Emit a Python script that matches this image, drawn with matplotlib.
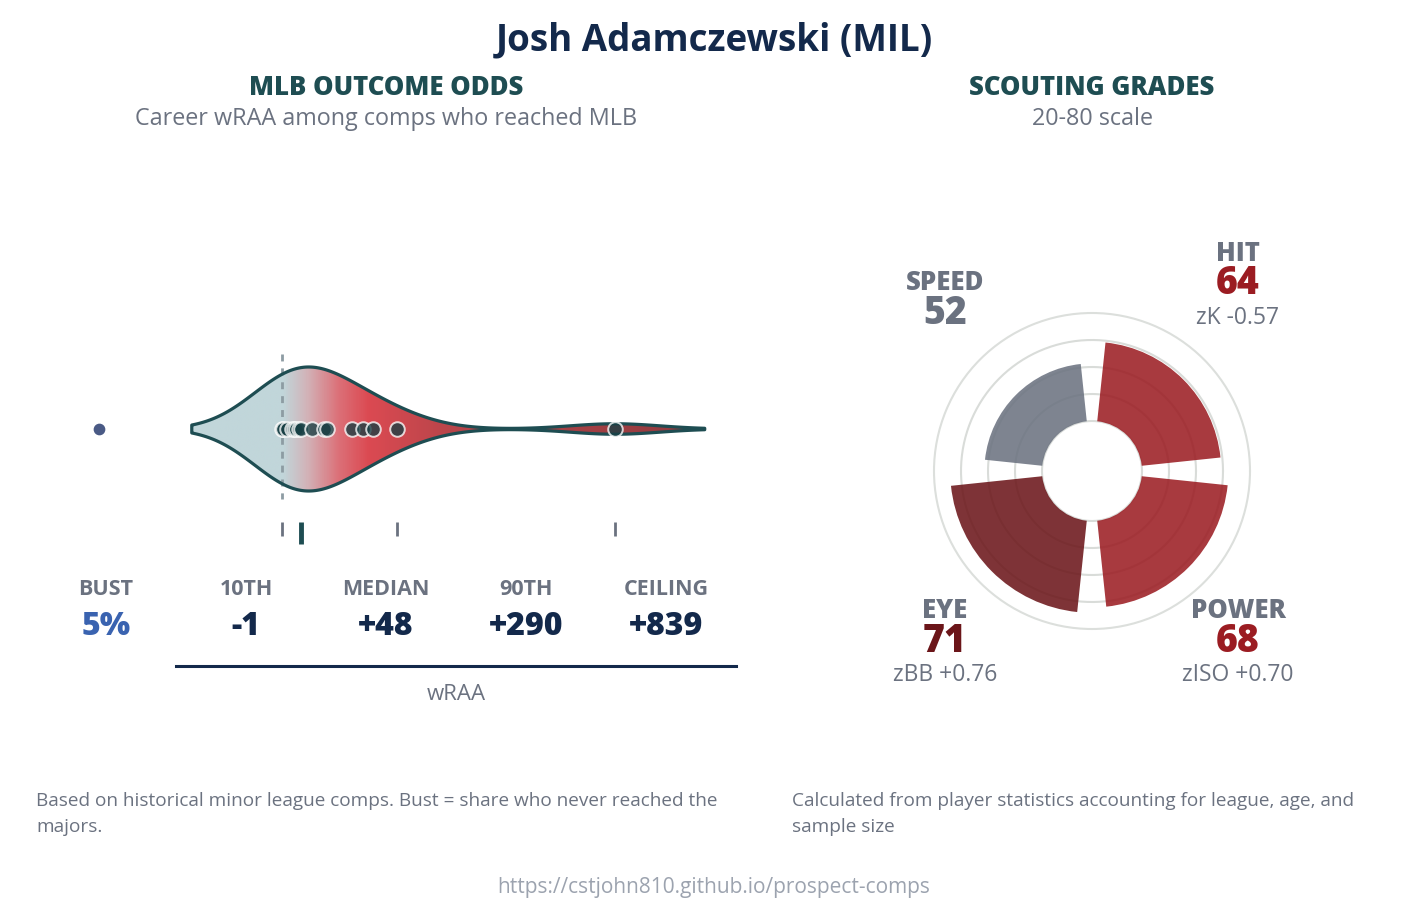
import numpy as np
import matplotlib
matplotlib.use("Agg")
import matplotlib.pyplot as plt
from matplotlib.colors import LinearSegmentedColormap
from matplotlib.patches import Polygon

plt.rcParams['font.family'] = ['Open Sans', 'DejaVu Sans']

# ---------------- data ----------------
PLAYER = "Josh Adamczewski (MIL)"
COMP_WRAA = [-1, 2, 12, 25, 30, 36, 44, 48, 75, 106, 113, 176, 205, 230, 290, 839]
BUST_MARK = -460
P10, MEDIAN, P90, CEILING = -1, 48, 290, 839
STAT_LABELS = ["BUST", "10TH", "MEDIAN", "90TH", "CEILING"]
STAT_VALUES = ["5%", "-1", "+48", "+290", "+839"]
KDE_BW = 113

GRADE_NAMES = ["HIT", "SPEED", "EYE", "POWER"]
GRADE_VALUES = [64, 52, 71, 68]
GRADE_ANGLES = [45, 135, 225, 315]
GRADE_Z = ["zK -0.57", "", "zBB +0.76", "zISO +0.70"]
GRADE_COLORS = ["#9b1c22", "#6b7280", "#6b1519", "#9b1c22"]
GRADE_GRID = [20, 35, 50, 65, 80]

W, H = 1428, 904
fig = plt.figure(figsize=(W / 100, H / 100), dpi=100)
fig.patch.set_facecolor("white")

def fx(x):
    return x / W

def fy(y):
    return 1 - y / H

NAVY = "#13294b"
TEAL = "#1e4d52"
GRAY = "#6b7280"

# ---------------- titles ----------------
fig.text(fx(714), fy(40), PLAYER, ha="center", va="center", fontsize=26.5,
         fontweight="bold", color=NAVY)
fig.text(fx(386), fy(88), "MLB OUTCOME ODDS", ha="center", va="center", fontsize=18.5,
         fontweight="heavy", color=TEAL)
fig.text(fx(386), fy(119), "Career wRAA among comps who reached MLB", ha="center",
         va="center", fontsize=16.8, color=GRAY)
fig.text(fx(1092), fy(88), "SCOUTING GRADES", ha="center", va="center", fontsize=18.5,
         fontweight="heavy", color=TEAL)
fig.text(fx(1092), fy(119), "20-80 scale", ha="center", va="center", fontsize=16.8,
         color=GRAY)

# ---------------- violin ----------------
PX0 = 281.9      # pixel of wRAA 0
PXS = 0.397      # pixels per wRAA unit
AX_L, AX_R = 60, 760
ax = fig.add_axes([fx(AX_L), 0, (AX_R - AX_L) / W, 1])
ax.set_xlim((AX_L - PX0) / PXS, (AX_R - PX0) / PXS)
ax.set_ylim(H, 0)
ax.axis("off")

vals = np.array(COMP_WRAA, dtype=float)
grid = np.linspace(vals.min() - 2 * KDE_BW, vals.max() + 2 * KDE_BW, 600)
dens = np.exp(-0.5 * ((grid[:, None] - vals[None, :]) / KDE_BW) ** 2).sum(axis=1)
half = dens / dens.max() * 62
YC = 430
top = YC - half
bot = YC + half
poly_xy = np.concatenate([np.column_stack([grid, top]),
                          np.column_stack([grid[::-1], bot[::-1]])])

stops = [(-230, "#c1d6da"), (0, "#c1d6da"), (60, "#d2b3b8"), (140, "#dc7078"),
         (215, "#db4a52"), (420, "#b9454a"), (1070, "#8f3a3e")]
lo, hi = stops[0][0], stops[-1][0]
cmap = LinearSegmentedColormap.from_list(
    "vg", [((v - lo) / (hi - lo), c) for v, c in stops])
grad = np.linspace(0, 1, 800)[None, :]
im = ax.imshow(grad, cmap=cmap, aspect="auto", extent=[lo, hi, YC + 70, YC - 70],
               zorder=1, interpolation="bilinear")
clip = Polygon(poly_xy, closed=True, facecolor="none", edgecolor="none",
               transform=ax.transData)
ax.add_patch(clip)
im.set_clip_path(clip)
ax.add_patch(Polygon(poly_xy, closed=True, facecolor="none", edgecolor=TEAL,
                     linewidth=2.3, zorder=3, joinstyle="round"))

# zero line
ax.plot([0, 0], [355, 500], color="#8d9ca3", lw=2, ls=(0, (2.5, 2.5)), zorder=2)

# points
ax.scatter(vals, np.full_like(vals, YC), s=110, color="#173f44", alpha=0.78,
           edgecolors="white", linewidths=1.4, zorder=4)
ax.scatter([BUST_MARK], [YC], s=55, color="#4a5a85", zorder=4)

# percentile ticks
for v in [P10, P90, CEILING]:
    ax.plot([v, v], [523, 537], color=GRAY, lw=2, zorder=2, solid_capstyle="butt")
ax.plot([MEDIAN, MEDIAN], [523, 545], color=TEAL, lw=3.5, zorder=2,
        solid_capstyle="butt")

# stats row
stat_x = [106, 246, 386, 526, 666]
for i, (lab, val) in enumerate(zip(STAT_LABELS, STAT_VALUES)):
    fig.text(fx(stat_x[i]), fy(590), lab, ha="center", va="center", fontsize=15.5,
             fontweight="bold", color=GRAY)
    fig.text(fx(stat_x[i]), fy(627), val, ha="center", va="center", fontsize=23,
             fontweight="heavy", color="#3a63b0" if i == 0 else NAVY)

fig.add_artist(plt.Line2D([fx(176), fx(736)], [fy(667), fy(667)], color=NAVY, lw=2.2))
fig.text(fx(456), fy(695), "wRAA", ha="center", va="center", fontsize=16, color=GRAY)

# ---------------- polar grades ----------------
CX, CY, R = 1092, 472, 158
pax = fig.add_axes([fx(CX - R), fy(CY + R), 2 * R / W, 2 * R / H], projection="polar")
RMIN = 20 - 50 / (108 / 60)
pax.set_ylim(RMIN, 80)
pax.set_xticks([])
pax.set_yticks([])
pax.grid(False)
pax.spines["polar"].set_color("#dcdfdc")
pax.spines["polar"].set_linewidth(1.5)
th = np.linspace(0, 2 * np.pi, 400)
for g in GRADE_GRID[:-1]:
    pax.plot(th, np.full_like(th, g), color="#d9dcd9", lw=1.5, zorder=1)
width = np.deg2rad(78)
for name, v, a, c in zip(GRADE_NAMES, GRADE_VALUES, GRADE_ANGLES, GRADE_COLORS):
    pax.bar(np.deg2rad(a), v - 20, width=width, bottom=20, color=c, alpha=0.87,
            edgecolor="none", zorder=2)

label_pos = {"HIT": (1238, 254), "SPEED": (945, 283), "EYE": (945, 611),
             "POWER": (1238, 611)}
for name, v, z, c in zip(GRADE_NAMES, GRADE_VALUES, GRADE_Z, GRADE_COLORS):
    x, y = label_pos[name]
    fig.text(fx(x), fy(y), name, ha="center", va="center", fontsize=18.5,
             fontweight="heavy", color=GRAY)
    fig.text(fx(x), fy(y + 30), str(v), ha="center", va="center", fontsize=27,
             fontweight="heavy", color=c)
    if z:
        fig.text(fx(x), fy(y + 64), z, ha="center", va="center", fontsize=16.5,
                 color=GRAY)

# ---------------- footnotes ----------------
foot_l = ["Based on historical minor league comps. Bust = share who never reached the",
          "majors."]
foot_r = ["Calculated from player statistics accounting for league, age, and",
          "sample size"]
for j, line in enumerate(foot_l):
    fig.text(fx(36), fy(801 + 26 * j), line, ha="left", va="center", fontsize=13.7,
             color=GRAY)
for j, line in enumerate(foot_r):
    fig.text(fx(792), fy(801 + 26 * j), line, ha="left", va="center", fontsize=13.7,
             color=GRAY)
fig.text(fx(714), fy(888), "https://cstjohn810.github.io/prospect-comps", ha="center",
         va="center", fontsize=15, color="#9ca3af")

fig.savefig("out.png", dpi=100, facecolor="white")
